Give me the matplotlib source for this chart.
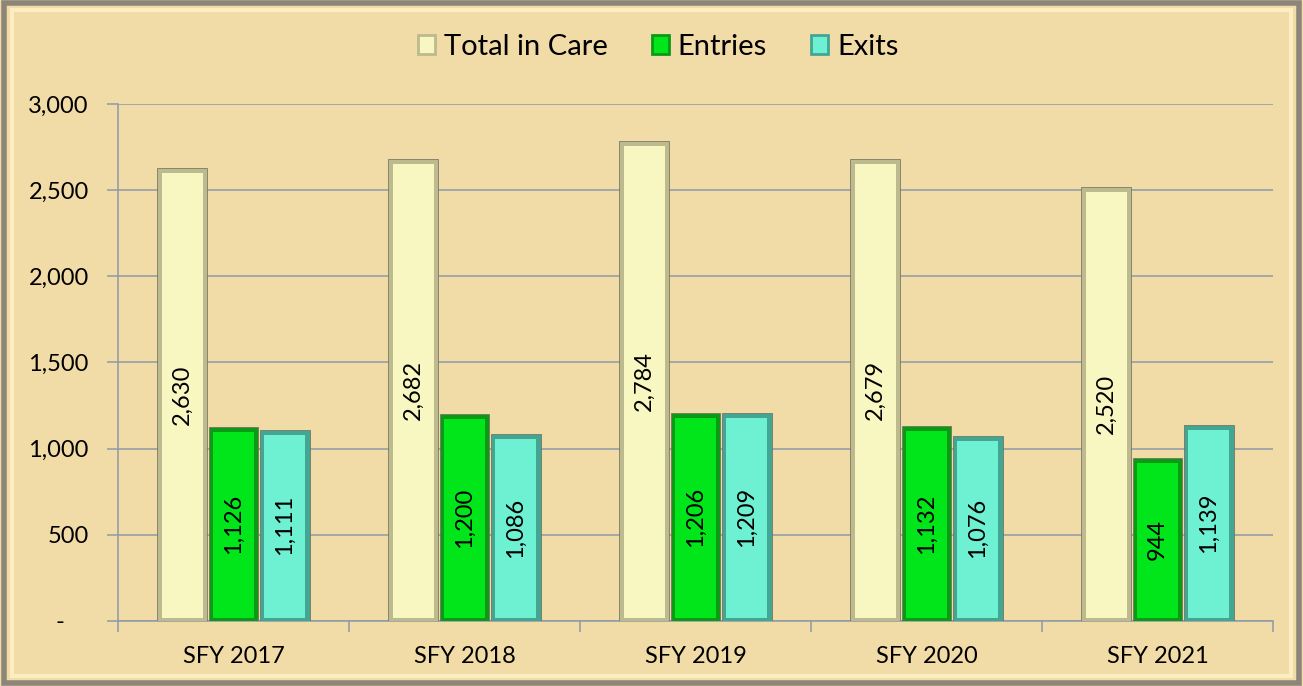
import matplotlib.pyplot as plt
import numpy as np
from matplotlib.patches import Rectangle
from matplotlib.ticker import FuncFormatter

years = ["SFY 2017", "SFY 2018", "SFY 2019", "SFY 2020", "SFY 2021"]
total_in_care = [2630, 2682, 2784, 2679, 2520]
entries = [1126, 1200, 1206, 1132, 944]
exits = [1111, 1086, 1209, 1076, 1139]

series = [
    ("Total in Care", total_in_care, "#F8F7C2", "#BDBA8E"),
    ("Entries", entries, "#00E61A", "#0C9A16"),
    ("Exits", exits, "#6EF0D2", "#42A692"),
]

plt.rcParams['font.family'] = ['Lato', 'DejaVu Sans']

fig = plt.figure(figsize=(13.03, 6.86), dpi=100)
fig.patch.set_facecolor("#F1DBA7")
ax = fig.add_axes([0.0906, 0.0948, 0.8864, 0.7536])
ax.set_facecolor("none")

# figure frame with a bevel look
fig.patches.append(Rectangle((0.003, 0.004), 0.994, 0.992, transform=fig.transFigure,
                             fill=False, edgecolor="#8C857A", linewidth=4, zorder=0))
fig.patches.append(Rectangle((0.009, 0.014), 0.982, 0.972, transform=fig.transFigure,
                             fill=False, edgecolor="#FFF3C8", linewidth=3, alpha=0.8, zorder=0))

x = np.arange(len(years))
w = 0.222
offsets = [-w, 0, w]

for (name, vals, col, dark), off in zip(series, offsets):
    vals = np.array(vals)
    ax.bar(x + off, vals, width=w * 0.97, color=dark, edgecolor="#6A6A5E",
           linewidth=0.5, zorder=3, label=name)
    ax.bar(x + off, vals - 45, width=w * 0.8, bottom=15, color=col,
           linewidth=0, zorder=4)
    for xi, v in zip(x + off, vals):
        ax.text(xi, v / 2, f"{v:,}", rotation=90, ha="center", va="center",
                fontsize=17, color="black", zorder=5)

ax.set_xlim(-0.5, len(years) - 0.5)
ax.set_ylim(0, 3000)
ax.set_yticks(np.arange(0, 3001, 500))
ax.yaxis.set_major_formatter(FuncFormatter(lambda v, p: "-    " if v == 0 else f"{int(v):,}"))
ax.grid(axis="y", color="#8E9AA6", linewidth=1.1, zorder=0)

ax.set_xticks(x)
ax.set_xticklabels(years)
ax.set_xticks(np.arange(-0.5, len(years)), minor=True)
ax.tick_params(axis="x", which="major", length=0, pad=18, labelsize=17)
ax.tick_params(axis="x", which="minor", length=8, color="#8E9AA6", width=1.1)
ax.tick_params(axis="y", length=8, color="#8E9AA6", width=1.1, labelsize=17, pad=13)

for s in ["top", "right"]:
    ax.spines[s].set_visible(False)
ax.spines["left"].set_color("#8E9AA6")
ax.spines["bottom"].set_color("#8E9AA6")
ax.spines["left"].set_linewidth(1.1)
ax.spines["bottom"].set_linewidth(1.1)

handles = [Rectangle((0, 0), 1, 1, facecolor=c, edgecolor=d, linewidth=2)
           for _, _, c, d in series]
fig.legend(handles, [s[0] for s in series], loc="center", bbox_to_anchor=(0.505, 0.932),
           ncol=3, frameon=False, fontsize=21, handlelength=0.6, handleheight=0.6,
           handletextpad=0.3, columnspacing=1.5)

fig.savefig("out.png", dpi=100, facecolor=fig.get_facecolor())
